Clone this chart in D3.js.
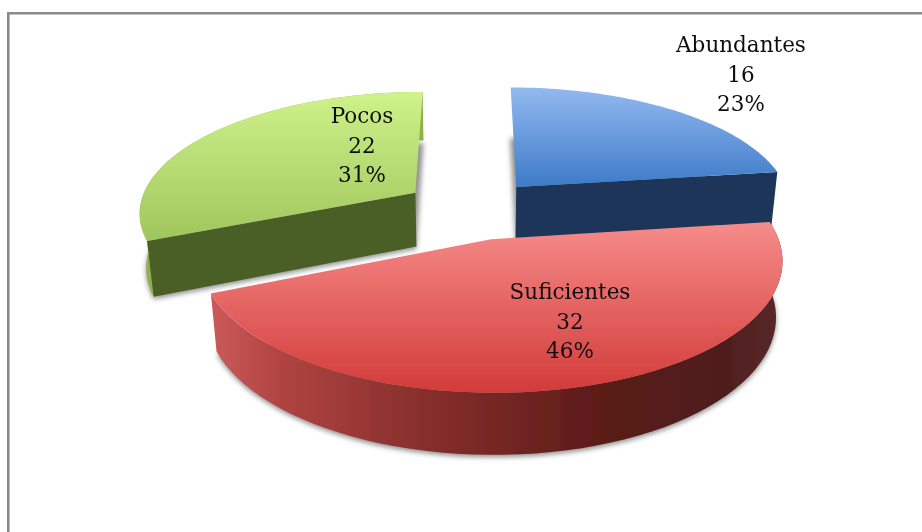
<!DOCTYPE html>
<html><head><meta charset="utf-8">
<script src="https://cdn.jsdelivr.net/npm/d3@7/dist/d3.min.js"></script>
<style>html,body{margin:0;padding:0;background:#fff;overflow:hidden}svg{display:block}</style>
</head><body><svg id="c" width="922" height="532"></svg>
<script>
const categories = ["Abundantes","Suficientes","Pocos"];
const values = [16,32,22];

const W=922,H=532;
const cx=472, cy=209, A=277, B=120.5, P=0.15, Q=0.02, D=55.5, EXPLODE=0.25;
const labelPos=[[741,52],[570,299],[362,123]];
const lineGap=29.5;
const topStops=[
 [[0,"#92b9f0"],[1,"#3e7bc8"]],
 [[0,"#f68c8a"],[1,"#d23b39"]],
 [[0,"#cff28b"],[1,"#9fc65c"]]];
const cutCols=["#1c3558","#7a2a28","#4a5e26"];
const curveCols=["#1c3558","url(#a1)","#8eb24a"];
const arcStops=[[0,"#cc5a5a"],[0.12,"#b04442"],[0.35,"#8a302d"],[0.7,"#5a1a18"],[0.9,"#4f1e1e"],[1,"#5a2a2a"]];

const svg=d3.select("#c");
const defs=svg.append("defs");
const blur=defs.append("filter").attr("id","sh").attr("x","-10%").attr("y","-10%").attr("width","120%").attr("height","120%");
blur.append("feGaussianBlur").attr("stdDeviation",2.6);
const soft=defs.append("filter").attr("id","soft").attr("x","-5%").attr("y","-5%").attr("width","110%").attr("height","110%");
soft.append("feGaussianBlur").attr("stdDeviation",0.45);

svg.append("path").attr("d",`M8.3 ${H}V13.3H${W}`).attr("fill","none").attr("stroke","#8a8a8a").attr("stroke-width",2.6);

const pie=d3.pie().sort(null).startAngle(0).endAngle(2*Math.PI);
const arcs=pie(values);
const total=d3.sum(values);

function proj(u,v,bottom){
  const w=1-P*v+(bottom?Q:0);
  return [cx+A*u/w, cy+(B*v+(bottom?D:0))/w];
}
const line=d3.line();
const root=svg.append("g").attr("filter","url(#soft)");

arcs.forEach((d,i)=>{
  const mid=(d.startAngle+d.endAngle)/2;
  const ox=EXPLODE*Math.sin(mid), oy=-EXPLODE*Math.cos(mid);
  const angs=d3.range(0,61).map(k=>d.startAngle+(d.endAngle-d.startAngle)*k/60);
  const rim=angs.map(a=>[ox+Math.sin(a),oy-Math.cos(a)]);
  const apex=[ox,oy];
  const pts=b=>[apex,...rim,apex].map(p=>proj(p[0],p[1],b));
  const g=root.append("g");

  g.append("path").attr("d",line(pts(true))+"Z").attr("fill","#777").attr("opacity",.8)
    .attr("transform","translate(0,2.5)").attr("filter","url(#sh)");

  const topP=pts(false);
  const y0=d3.min(topP,p=>p[1]), y1=d3.max(topP,p=>p[1]);
  const tg=defs.append("linearGradient").attr("id","t"+i).attr("gradientUnits","userSpaceOnUse")
    .attr("x1",0).attr("x2",0).attr("y1",y0).attr("y2",y1);
  topStops[i].forEach(s=>tg.append("stop").attr("offset",s[0]).attr("stop-color",s[1]));
  const rimP=rim.map(p=>proj(p[0],p[1],false));
  const x0=d3.min(rimP,p=>p[0]), x1=d3.max(rimP,p=>p[0]);
  const ag=defs.append("linearGradient").attr("id","a"+i).attr("gradientUnits","userSpaceOnUse")
    .attr("x1",x0).attr("x2",x1).attr("y1",0).attr("y2",0);
  arcStops.forEach(s=>ag.append("stop").attr("offset",s[0]).attr("stop-color",s[1]));

  const wall=(a)=>{
    const t=a.map(p=>proj(p[0],p[1],false));
    const b=a.slice().reverse().map(p=>proj(p[0],p[1],true));
    return line(t.concat(b))+"Z";
  };
  const cuts=[[apex,rim[0]],[apex,rim[rim.length-1]]];
  const front=cuts[d3.greatest([0,1],k=>d3.mean(cuts[k],p=>p[1]))];
  if(i!==0) g.append("path").attr("d",wall(rim)).attr("fill",curveCols[i]);
  if(i!==1) g.append("path").attr("d",wall(front)).attr("fill",cutCols[i]);

  g.append("path").attr("d",line(topP)+"Z").attr("fill",`url(#t${i})`);
});

const labels=svg.append("g").attr("font-family","'DejaVu Serif'").attr("font-size",21.5)
  .attr("text-anchor","middle").attr("fill","#111").attr("filter","url(#soft)");
arcs.forEach((d,i)=>{
  const [x,y]=labelPos[i];
  [categories[i],String(values[i]),Math.round(values[i]/total*100)+"%"].forEach((s,j)=>{
    labels.append("text").attr("x",x).attr("y",y+j*lineGap).text(s);
  });
});
</script></body></html>
